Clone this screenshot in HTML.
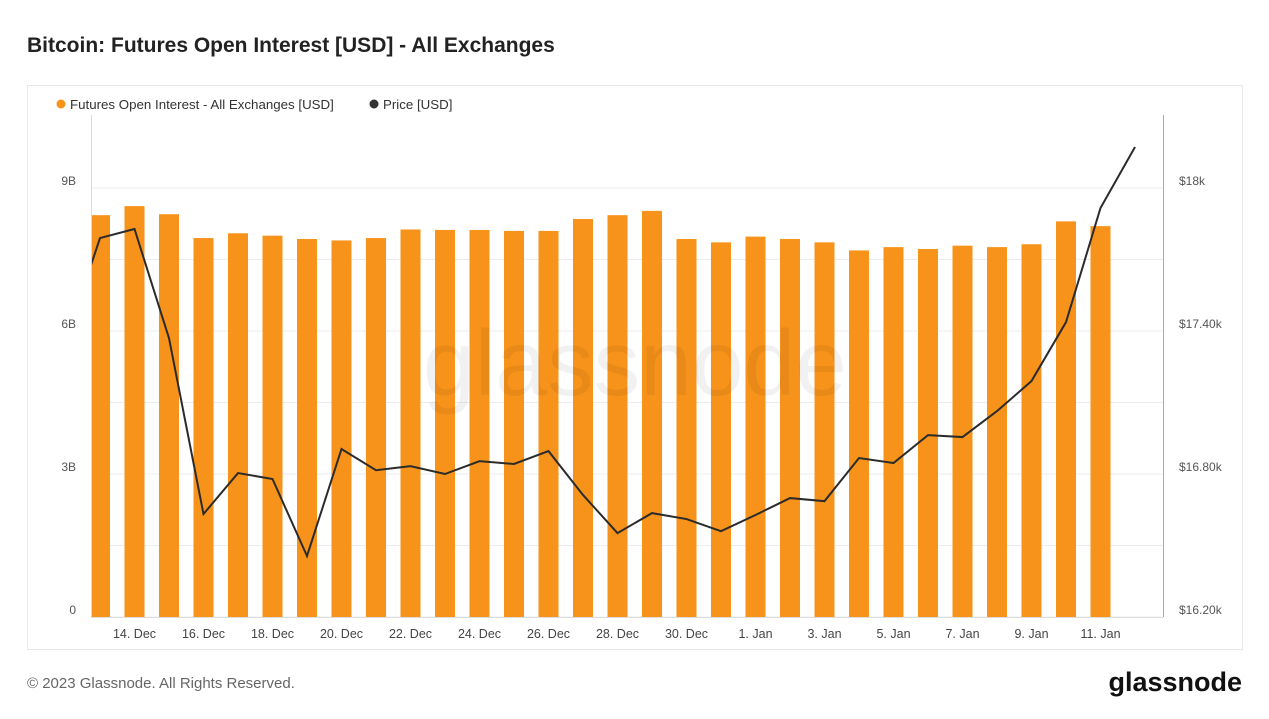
<!DOCTYPE html>
<html><head><meta charset="utf-8"><style>
body{margin:0;background:#fff;font-family:"Liberation Sans",sans-serif;}
svg text{font-family:"Liberation Sans",sans-serif;}
</style></head><body>
<svg id="c" width="1269" height="714" xmlns="http://www.w3.org/2000/svg">
<text x="27" y="52" font-size="21" font-weight="bold" fill="#222">Bitcoin: Futures Open Interest [USD] - All Exchanges</text>
<rect x="27.5" y="85.5" width="1215" height="564" fill="#fff" stroke="#e8e8e8"/>
<g>
<circle cx="61" cy="104" r="4.5" fill="#f7931a"/>
<text x="70" y="109" font-size="13.3" fill="#333">Futures Open Interest - All Exchanges [USD]</text>
<circle cx="374" cy="104" r="4.5" fill="#333"/>
<text x="383" y="109" font-size="13.3" fill="#333">Price [USD]</text>
</g>
<g id="grid"></g><g id="bars"></g><g id="line"></g><g id="axes"></g>
<text x="27" y="688" font-size="15" fill="#666">© 2023 Glassnode. All Rights Reserved.</text>
<text x="1242" y="691" font-size="27" fill="#111" text-anchor="end" font-weight="bold">glassnode</text>
<text x="635" y="395" font-size="93" fill="#000" opacity="0.05" text-anchor="middle">glassnode</text>
</svg>
<script>
const dates=["13 Dec","14 Dec","15 Dec","16 Dec","17 Dec","18 Dec","19 Dec","20 Dec","21 Dec","22 Dec","23 Dec","24 Dec","25 Dec","26 Dec","27 Dec","28 Dec","29 Dec","30 Dec","31 Dec","1 Jan","2 Jan","3 Jan","4 Jan","5 Jan","6 Jan","7 Jan","8 Jan","9 Jan","10 Jan","11 Jan"];
const oiValues=[8.43,8.62,8.45,7.95,8.05,8.0,7.93,7.9,7.95,8.13,8.12,8.12,8.1,8.1,8.35,8.43,8.52,7.93,7.86,7.98,7.93,7.86,7.69,7.76,7.72,7.79,7.76,7.82,8.3,8.2];
const priceDates=["12 Dec","13 Dec","14 Dec","15 Dec","16 Dec","17 Dec","18 Dec","19 Dec","20 Dec","21 Dec","22 Dec","23 Dec","24 Dec","25 Dec","26 Dec","27 Dec","28 Dec","29 Dec","30 Dec","31 Dec","1 Jan","2 Jan","3 Jan","4 Jan","5 Jan","6 Jan","7 Jan","8 Jan","9 Jan","10 Jan","11 Jan","12 Jan"];
const priceValues=[17355,17790,17828,17370,16632,16804,16779,16456,16905,16816,16833,16800,16854,16842,16896,16712,16552,16636,16611,16560,16628,16699,16686,16867,16846,16963,16955,17064,17190,17437,17916,18172];
const leftTicks=[0,3,6,9];
const leftTickLabels=["0","3B","6B","9B"];
const rightTicks=[16200,16800,17400,18000];
const rightTickLabels=["$16.20k","$16.80k","$17.40k","$18k"];
const xTickLabels=["14. Dec","16. Dec","18. Dec","20. Dec","22. Dec","24. Dec","26. Dec","28. Dec","30. Dec","1. Jan","3. Jan","5. Jan","7. Jan","9. Jan","11. Jan"];
const xTickDates=["14 Dec","16 Dec","18 Dec","20 Dec","22 Dec","24 Dec","26 Dec","28 Dec","30 Dec","1 Jan","3 Jan","5 Jan","7 Jan","9 Jan","11 Jan"];

const NS="http://www.w3.org/2000/svg";
const L=91,R=1163,T=115,B=617;
const allDays=priceDates;
function x(d){return 65.5+allDays.indexOf(d)*34.5;}
function yL(v){return B-v/9*(B-188);}
function yR(v){return B-(v-16200)/1800*(B-188);}
function mk(tag,attrs,parent){const e=document.createElementNS(NS,tag);for(const k in attrs)e.setAttribute(k,attrs[k]);document.getElementById(parent).appendChild(e);return e;}
for(let i=0;i<=6;i++){const yy=yL(i*1.5);
const g=mk('line',{x1:L,x2:R,y1:yy,y2:yy,stroke:'#ececec'},'grid');

}
const cp=mk('clipPath',{id:'clip'},'grid');const cr=document.createElementNS(NS,'rect');cr.setAttribute('x',L);cr.setAttribute('y',T);cr.setAttribute('width',R-L);cr.setAttribute('height',B-T);cp.appendChild(cr);
dates.forEach((d,i)=>{const b=mk('rect',{x:x(d)-10,y:yL(oiValues[i]),width:20,height:B-yL(oiValues[i]),fill:'#f7931a','clip-path':'url(#clip)'},'bars');

});
const pts=priceDates.map((d,i)=>x(d)+','+yR(priceValues[i])).join(' ');
const pl=mk('polyline',{points:pts,fill:'none',stroke:'#2b2b2b','stroke-width':2,'clip-path':'url(#clip)'},'line');


const la=mk('line',{x1:L+0.5,x2:L+0.5,y1:T,y2:B,stroke:'#fbd3a0'},'axes');


const ra=mk('line',{x1:R+0.5,x2:R+0.5,y1:T,y2:B,stroke:'#aaa'},'axes');


const ba=mk('line',{x1:L,x2:R,y1:B+0.5,y2:B+0.5,stroke:'#ddd'},'axes');


leftTicks.forEach((v,i)=>{const t=mk('text',{x:76,y:yL(v)-3,'font-size':12,fill:'#555','text-anchor':'end'},'axes');t.textContent=leftTickLabels[i];

});
rightTicks.forEach((v,i)=>{const t=mk('text',{x:1179,y:yR(v)-3,'font-size':12,fill:'#555'},'axes');t.textContent=rightTickLabels[i];

});
xTickDates.forEach((d,i)=>{const t=mk('text',{x:x(d),y:638,'font-size':12.5,fill:'#444','text-anchor':'middle'},'axes');t.textContent=xTickLabels[i];

});
</script>
</body></html>
